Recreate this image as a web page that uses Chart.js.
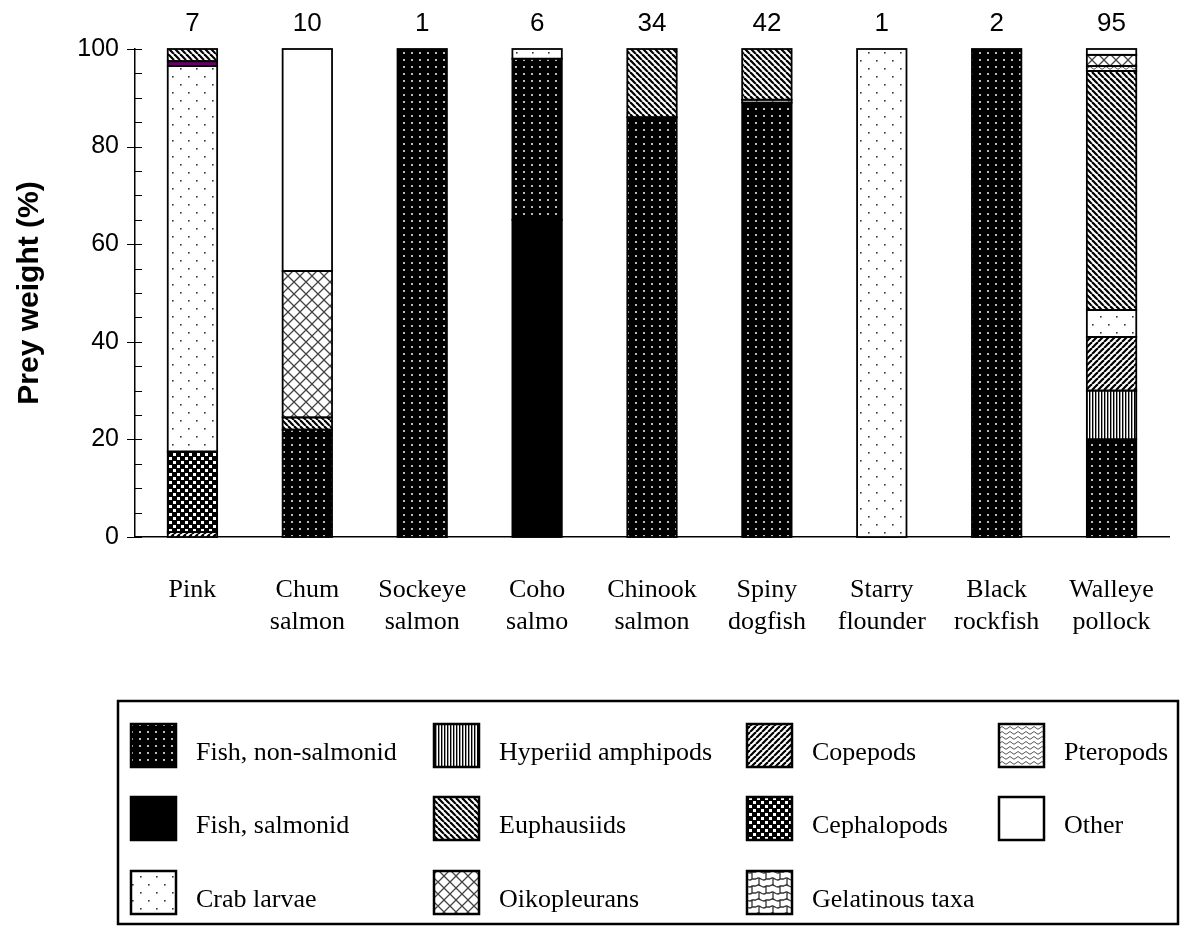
<!DOCTYPE html>
<html>
<head>
<meta charset="utf-8">
<title>Prey weight by predator</title>
<script src="https://cdn.jsdelivr.net/npm/chart.js@4.4.1/dist/chart.umd.min.js"></script>
<style>
  html, body { margin: 0; padding: 0; background: #fff; }
  #wrap { width: 1181px; height: 931px; }
</style>
</head>
<body>
<div id="wrap"><canvas id="chart" width="1181" height="931"></canvas></div>
<script>
/* DATA */
const predators = [["Pink"], ["Chum", "salmon"], ["Sockeye", "salmon"], ["Coho", "salmo"], ["Chinook", "salmon"],
  ["Spiny", "dogfish"], ["Starry", "flounder"], ["Black", "rockfish"], ["Walleye", "pollock"]];
const sampleSizes = [7, 10, 1, 6, 34, 42, 1, 2, 95];
const yTicks = [0, 20, 40, 60, 80, 100];

// prey weight (%), stacked bottom -> top in this order
const fishSalmonid    = [0,    0,    0,   65, 0,  0,    0,   0,   0];
const fishNonSalmonid = [0,    22,   100, 33, 86, 89,   0,   100, 20];
const hyperiids       = [0,    0,    0,   0,  0,  0,    0,   0,   10];
const copepods        = [1,    0,    0,   0,  0,  0,    0,   0,   11];
const cephalopods     = [16.5, 0,    0,   0,  0,  0,    0,   0,   0];
const crabLarvae      = [79,   0,    0,   2,  0,  0.6,  100, 0,   5.5];
const gelatinous      = [1,    0,    0,   0,  0,  0,    0,   0,   0];
const euphausiids     = [2.5,  2.5,  0,   0,  14, 10.4, 0,   0,   49];
const pteropods       = [0,    0,    0,   0,  0,  0,    0,   0,   1];
const oikopleurans    = [0,    30,   0,   0,  0,  0,    0,   0,   2.3];
const other           = [0,    45.5, 0,   0,  0,  0,    0,   0,   1.2];

/* PATTERNS */
function tile(w, h, draw) {
  const c = document.createElement("canvas");
  c.width = w; c.height = h;
  const g = c.getContext("2d");
  g.fillStyle = "#fff";
  g.fillRect(0, 0, w, h);
  draw(g, w, h);
  return g.createPattern(c, "repeat");
}

function diagonal(down) {
  return tile(6, 6, (g) => {
    g.strokeStyle = "#000";
    g.lineWidth = 2.2;
    for (const k of [-6, 0, 6]) {
      g.beginPath();
      if (down) { g.moveTo(k, 0); g.lineTo(k + 6, 6); }
      else { g.moveTo(k, 6); g.lineTo(k + 6, 0); }
      g.stroke();
    }
  });
}

const patterns = {
  black: "#000",
  white: "#fff",
  dotsOnBlack: tile(8, 7, (g) => {
    g.fillStyle = "#000"; g.fillRect(0, 0, 8, 7);
    g.fillStyle = "#bbb"; g.fillRect(3, 3, 2, 2);
  }),
  dotsOnWhite: tile(16, 16, (g) => {
    g.fillStyle = "#333";
    g.fillRect(4, 4, 1.6, 1.6);
    g.fillRect(12, 12, 1.6, 1.6);
  }),
  vertical: tile(3, 3, (g) => {
    g.fillStyle = "#000"; g.fillRect(0, 0, 1, 3);
    g.fillStyle = "#999"; g.fillRect(1, 0, 1, 3);
  }),
  down: diagonal(true),
  up: diagonal(false),
  squares: tile(8, 8, (g) => {
    g.fillStyle = "#000"; g.fillRect(0, 0, 8, 8);
    g.fillStyle = "#fff"; g.fillRect(1, 1, 3, 3); g.fillRect(5, 5, 3, 3);
  }),
  crosshatch: tile(12, 12, (g) => {
    g.strokeStyle = "#444"; g.lineWidth = 1.3;
    g.beginPath();
    g.moveTo(0, 0); g.lineTo(12, 12);
    g.moveTo(12, 0); g.lineTo(0, 12);
    g.stroke();
  }),
  waves: tile(8, 5, (g) => {
    g.strokeStyle = "#555"; g.lineWidth = 1;
    g.beginPath();
    g.moveTo(0, 3); g.quadraticCurveTo(2, 0, 4, 3); g.quadraticCurveTo(6, 5.5, 8, 3);
    g.stroke();
  }),
  blobs: tile(14, 14, (g) => {
    g.strokeStyle = "#333"; g.lineWidth = 1.3;
    g.beginPath();
    g.moveTo(0, 4); g.bezierCurveTo(4, 0, 6, 8, 10, 4); g.lineTo(14, 4);
    g.moveTo(0, 11); g.bezierCurveTo(4, 7, 6, 15, 10, 11); g.lineTo(14, 11);
    g.moveTo(10, 4); g.lineTo(10, 11);
    g.moveTo(3, 11); g.lineTo(3, 14);
    g.moveTo(3, 0); g.lineTo(3, 4);
    g.stroke();
  })
};

const PURPLE = "#660066";

/* DATASETS (stack order) */
const preySeries = [
  { label: "Fish, salmonid", data: fishSalmonid, fill: patterns.black },
  { label: "Fish, non-salmonid", data: fishNonSalmonid, fill: patterns.dotsOnBlack },
  { label: "Hyperiid amphipods", data: hyperiids, fill: patterns.vertical },
  { label: "Copepods", data: copepods, fill: patterns.up },
  { label: "Cephalopods", data: cephalopods, fill: patterns.squares },
  { label: "Crab larvae", data: crabLarvae, fill: patterns.dotsOnWhite },
  { label: "Gelatinous taxa", data: gelatinous, fill: patterns.blobs, override: [PURPLE] },
  { label: "Euphausiids", data: euphausiids, fill: patterns.down },
  { label: "Pteropods", data: pteropods, fill: patterns.waves },
  { label: "Oikopleurans", data: oikopleurans, fill: patterns.crosshatch },
  { label: "Other", data: other, fill: patterns.white }
];

// legend grid, row by row
const legendRows = [
  ["Fish, non-salmonid", "Hyperiid amphipods", "Copepods", "Pteropods"],
  ["Fish, salmonid", "Euphausiids", "Cephalopods", "Other"],
  ["Crab larvae", "Oikopleurans", "Gelatinous taxa"]
];

const SANS = 'Arial, "Liberation Sans", sans-serif';
const SERIF = '"Times New Roman", "Liberation Serif", serif';

/* SEGMENT OUTLINES: one shared line between stacked pieces */
const outlines = {
  id: "outlines",
  afterDatasetsDraw(chart) {
    const ctx = chart.ctx;
    ctx.save();
    ctx.strokeStyle = "#000";
    ctx.lineWidth = 1.8;
    chart.data.datasets.forEach((ds, di) => {
      chart.getDatasetMeta(di).data.forEach((el, i) => {
        if (ds.data[i] == null) return;
        const { x, y, base, width } = el.getProps(["x", "y", "base", "width"], true);
        ctx.strokeRect(x - width / 2, Math.min(y, base), width, Math.abs(base - y));
      });
    });
    ctx.restore();
  }
};

/* DECORATION PLUGIN: inner ticks, sample sizes, boxed legend */
const decorations = {
  id: "decorations",
  afterDraw(chart) {
    const { ctx, chartArea, scales: { x, y } } = chart;
    ctx.save();

    // y ticks: majors cross the axis, minors point inward
    ctx.strokeStyle = "#000";
    ctx.lineWidth = 1;
    const ax = chartArea.left;
    for (let v = 0; v <= 100; v += 5) {
      const py = Math.round(y.getPixelForValue(v)) + 0.5;
      ctx.beginPath();
      ctx.moveTo(v % 20 === 0 ? ax - 8 : ax, py);
      ctx.lineTo(ax + 7, py);
      ctx.stroke();
    }

    // sample sizes above bars
    ctx.fillStyle = "#000";
    ctx.font = "26px " + SANS;
    ctx.textAlign = "center";
    ctx.textBaseline = "middle";
    sampleSizes.forEach((n, i) => ctx.fillText(String(n), x.getPixelForValue(i), 24));

    // legend box
    ctx.lineWidth = 2.5;
    ctx.strokeRect(118, 701, 1060, 223);

    const colX = [131, 434, 747, 999];
    const rowY = [724, 797, 871];
    ctx.font = "26px " + SERIF;
    ctx.textAlign = "left";
    ctx.textBaseline = "alphabetic";
    legendRows.forEach((row, r) => {
      row.forEach((name, c) => {
        const s = preySeries.find(p => p.label === name);
        const sx = colX[c], sy = rowY[r];
        ctx.fillStyle = s.fill;
        ctx.fillRect(sx, sy, 45, 43);
        ctx.lineWidth = 2.5;
        ctx.strokeStyle = "#000";
        ctx.strokeRect(sx, sy, 45, 43);
        ctx.fillStyle = "#000";
        ctx.fillText(name, sx + 65, sy + 36);
      });
    });
    ctx.restore();
  }
};

/* CHART */
new Chart(document.getElementById("chart"), {
  type: "bar",
  data: {
    labels: predators,
    datasets: preySeries.map(s => ({
      label: s.label,
      data: s.data.map(v => v || null),
      backgroundColor: s.data.map((v, i) => (s.override && s.override[i]) || s.fill),
      borderWidth: 0,
      categoryPercentage: 1,
      barPercentage: 0.43
    }))
  },
  options: {
    responsive: false,
    animation: false,
    layout: { padding: { top: 49, right: 12, left: 0, bottom: 0 } },
    plugins: {
      legend: { display: false },
      tooltip: { enabled: false }
    },
    scales: {
      x: {
        stacked: true,
        grid: { display: false, drawTicks: false },
        border: { display: true, color: "#000", width: 1.5 },
        ticks: { color: "#000", padding: 38, maxRotation: 0, autoSkip: false,
                 font: { family: SERIF, size: 26, lineHeight: 1.2 } },
        afterFit(scale) {
          scale.height = 394;
          scale.paddingLeft = 0;
          scale.paddingRight = 0;
        }
      },
      y: {
        stacked: true,
        min: 0,
        max: 100,
        afterBuildTicks(scale) { scale.ticks = yTicks.map(v => ({ value: v })); },
        grid: { display: false, drawTicks: false },
        border: { display: true, color: "#000", width: 1.5 },
        ticks: { color: "#000", padding: 16, font: { family: SANS, size: 25 } },
        title: {
          display: true,
          text: "Prey weight (%)",
          color: "#000",
          padding: { top: 12, bottom: 0 },
          font: { family: SANS, size: 30, weight: "bold", lineHeight: 1.2 }
        },
        afterFit(scale) { scale.width = 135; }
      }
    }
  },
  plugins: [outlines, decorations]
});
</script>
</body>
</html>
